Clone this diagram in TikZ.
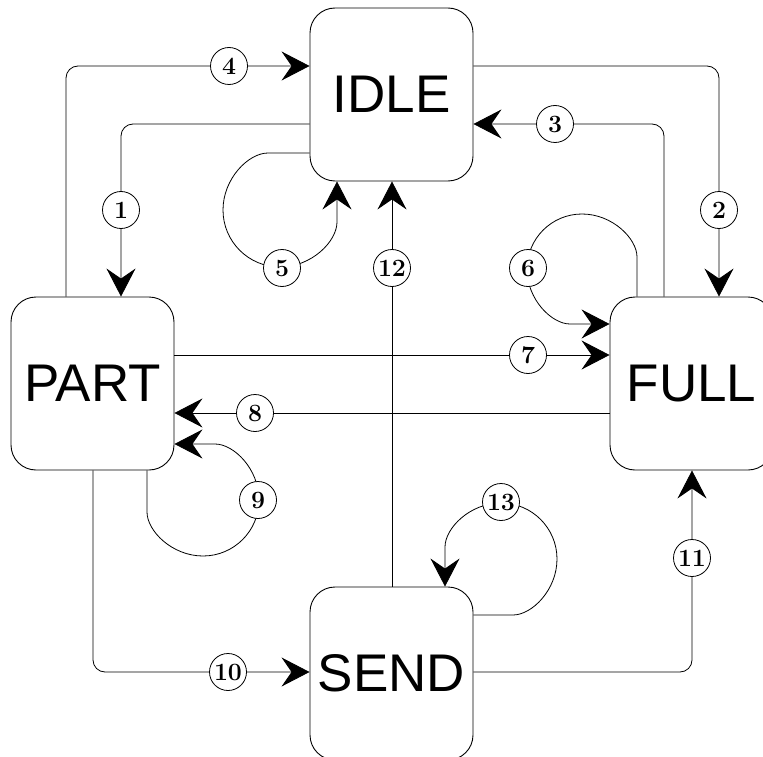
\documentclass[tikz,border=0pt]{standalone}
\usepackage{fontspec}
\newfontfamily\statefont{Liberation Sans}
\newcommand\lblfont{\fontencoding{OT1}\fontfamily{cmr}\fontseries{bx}\fontshape{n}\fontsize{24}{24}\selectfont}
\usetikzlibrary{arrows.meta}
\begin{document}
\begin{tikzpicture}[x=1pt,y=-1pt,
  state/.style={draw,line width=0.9pt,rounded corners=25pt,minimum width=163pt,minimum height=173pt,inner sep=0pt,font=\statefont\fontsize{53}{53}\selectfont},
  arr/.style={line width=0.8pt,rounded corners=12pt,-{Stealth[length=28pt,width=29pt,inset=10pt]}},
  lbl/.style={circle,draw,line width=0.8pt,fill=white,minimum size=37pt,inner sep=0pt,font=\lblfont}]
\useasboundingbox (0,0) rectangle (763,757);
\clip (0,0) rectangle (763,757);
\node[state] (IDLE) at (391.5,94.5) {IDLE};
\node[state] (PART) at (92.5,383.5) {PART};
\node[state] (FULL) at (691.5,383.5) {FULL};
\node[state] (SEND) at (391.5,673.5) {SEND};
% connectors
\draw[arr] (IDLE.west |- 0,124) -| (PART.north -| 121,0);
\draw[arr] (PART.north -| 66,0) |- (IDLE.west |- 0,66);
\draw[arr] (IDLE.east |- 0,66) -| (FULL.north -| 719,0);
\draw[arr] (FULL.north -| 664,0) |- (IDLE.east |- 0,124);
\draw[arr] (IDLE.west |- 0,153) -- (280,153) arc[start angle=270,end angle=0,radius=57] -- (IDLE.south -| 337,0);
\draw[arr] (FULL.north -| 637,0) -- (637,269) arc[start angle=0,end angle=-270,radius=55] -- (FULL.west |- 0,324);
\draw[arr] (PART.east |- 0,355) -- (FULL.west |- 0,355);
\draw[arr] (FULL.west |- 0,413) -- (PART.east |- 0,413);
\draw[arr] (PART.south -| 147,0) -- (147,500) arc[start angle=180,end angle=-90,radius=56] -- (PART.east |- 0,444);
\draw[arr] (PART.south -| 93,0) |- (SEND.west |- 0,672);
\draw[arr] (SEND.east |- 0,672) -| (FULL.south -| 692,0);
\draw[arr] (SEND.north -| 392,0) -- (IDLE.south -| 392,0);
\draw[arr] (SEND.east |- 0,615) -- (501,615) arc[start angle=90,end angle=-180,radius=56] -- (SEND.north -| 445,0);
% labels
\node[lbl] (l1) at (121,210) {1};
\node[lbl] (l2) at (719,210) {2};
\node[lbl] (l3) at (555,124) {3};
\node[lbl] (l4) at (229,66) {4};
\node[lbl] (l5) at (282,268) {5};
\node[lbl] (l6) at (528,268) {6};
\node[lbl] (l7) at (528,355) {7};
\node[lbl] (l8) at (255,413) {8};
\node[lbl] (l9) at (258,500) {9};
\node[lbl] (l10) at (228,672) {10};
\node[lbl] (l11) at (692,558) {11};
\node[lbl] (l12) at (392,268) {12};
\node[lbl] (l13) at (501,502) {13};
\end{tikzpicture}
\end{document}
